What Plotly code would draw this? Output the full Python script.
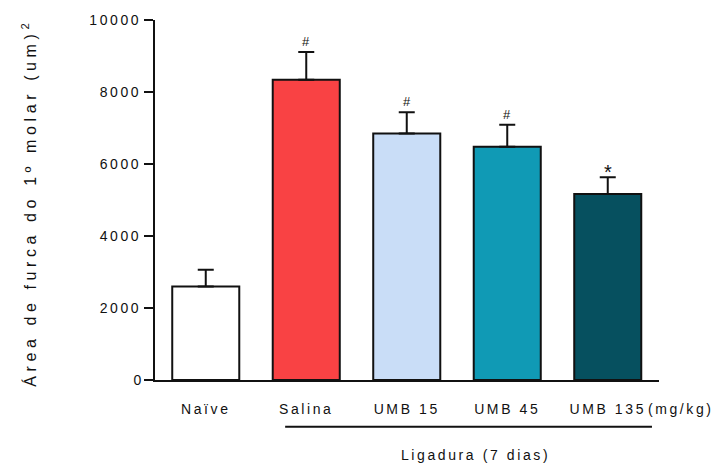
import plotly.graph_objects as go

# Furcation area of the first molar, mean + SEM per group
groups = ["Naïve", "Salina", "UMB 15", "UMB 45", "UMB 135"]
means = [2600, 8340, 6850, 6480, 5165]
sems = [460, 770, 590, 610, 470]
marks = ["", "#", "#", "#", "*"]
colors = ["#FFFFFF", "#F94244", "#C9DDF7", "#109AB5", "#06505F"]

y_ticks = [0, 2000, 4000, 6000, 8000, 10000]

font_family = "Liberation Sans, Arial, sans-serif"
ink = "#111111"

fig = go.Figure()
fig.add_trace(go.Bar(
    x=groups,
    y=means,
    width=0.667,
    marker=dict(color=colors, line=dict(color=ink, width=2)),
    error_y=dict(type="data", array=sems, symmetric=False, arrayminus=[0] * len(sems),
                 color=ink, thickness=2, width=8),
    showlegend=False,
))

# significance markers above the error bars
for g, m, s, k in zip(groups, means, sems, marks):
    if k:
        fig.add_annotation(x=g, y=m + s, text=k, showarrow=False,
                           yanchor="bottom", yshift=1 if k == "#" else -8,
                           font=dict(family=font_family, size=13 if k == "#" else 20,
                                     color=ink))

# unit label next to the last group
fig.add_annotation(x=1.0, xref="paper", y=0, yref="paper", text="(mg/kg)",
                   showarrow=False, xanchor="left", yanchor="top", xshift=-4, yshift=-19,
                   font=dict(family=font_family, size=14, color=ink))

# bracket line grouping the ligature groups
fig.add_shape(type="line", xref="x", yref="paper", x0=0.79, x1=4.44, y0=-0.13, y1=-0.13,
              line=dict(color=ink, width=2))
fig.add_annotation(x=2.68, xref="x", y=-0.208, yref="paper", text="Ligadura (7 dias)",
                   showarrow=False, xanchor="center", yanchor="middle",
                   font=dict(family=font_family, size=14, color=ink))

# y axis title
fig.add_annotation(x=-0.25, xref="paper", y=0.493, yref="paper",
                   text="Área de furca do 1º molar (um)<sup>2</sup>", textangle=-90,
                   showarrow=False, xanchor="center", yanchor="middle",
                   font=dict(family=font_family, size=16, color=ink))

fig.update_layout(
    width=714, height=467,
    margin=dict(l=155, r=55, t=17, b=87),
    plot_bgcolor="white", paper_bgcolor="white",
    font=dict(family=font_family, color=ink),
)
fig.update_xaxes(
    range=[-0.505, 4.51],
    showline=True, linecolor=ink, linewidth=2,
    ticks="", showgrid=False, zeroline=False,
    tickfont=dict(family=font_family, size=14, color=ink),
    ticklabelstandoff=15,
)
fig.update_yaxes(
    range=[0, 10000],
    tickvals=y_ticks, ticktext=[str(v) for v in y_ticks],
    showline=True, linecolor=ink, linewidth=2,
    ticks="outside", ticklen=9, tickwidth=2, tickcolor=ink,
    showgrid=False, zeroline=False,
    tickfont=dict(family=font_family, size=14, color=ink),
)

# wide letter spacing for the text, as in the exported figure style
spacing_js = """
document.querySelectorAll('.main-svg text').forEach(function (t) {
  var s = t.textContent || '';
  if (s.length < 2) { return; }
  t.style.letterSpacing = s.indexOf('rea de furca') >= 0 ? '4.6px' : '2.6px';
});
"""

fig.write_html("out.html", post_script=spacing_js)
